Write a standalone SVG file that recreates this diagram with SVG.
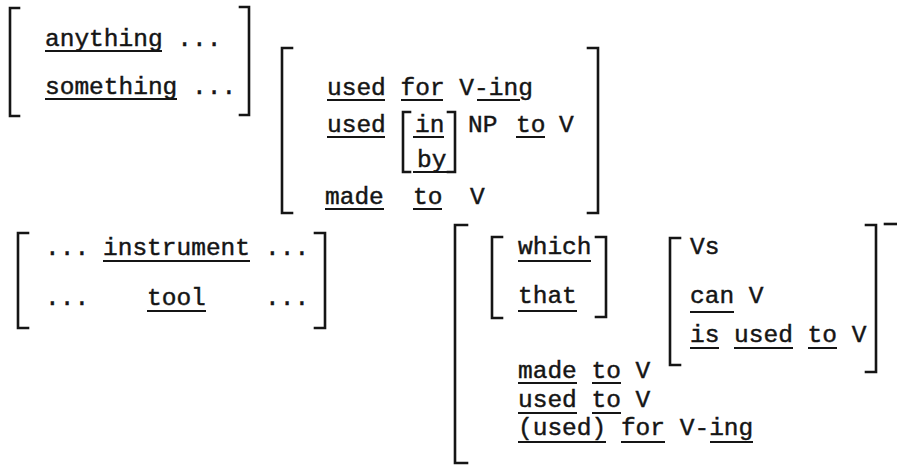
<svg xmlns="http://www.w3.org/2000/svg" width="897" height="467" viewBox="0 0 897 467">
<style>
text { font-family: "Liberation Mono", "DejaVu Sans Mono", monospace; font-size: 24.5px; fill: #151515; stroke: #151515; stroke-width: 0.45; }
.br { fill: none; stroke: #151515; stroke-width: 2.6; stroke-linecap: square; stroke-linejoin: miter; }
.ul { stroke: #151515; stroke-width: 2; fill: none; }
</style>
<rect width="897" height="467" fill="#ffffff"/>

<g id="node-anything">
  <path class="br" d="M19 8 H10 V116 H19"/>
  <path class="br" d="M240 7 H249 V115 H240"/>
  <text x="45" y="46">anything ...</text>
  <text x="45" y="94">something ...</text>
  <path class="ul" d="M45 51 H162 M45 99 H177"/>
</g>

<g id="node-used-for">
  <path class="br" d="M292 48 H282 V213 H292"/>
  <path class="br" d="M588 48 H598 V213 H588"/>
  <text x="327" y="95">used for V-ing</text>
  <path class="ul" d="M327 100 H385 M401 100 H443 M477 100 H520"/>
  <text x="327" y="132">used</text>
  <path class="br" d="M410 112 H403 V172 H410"/>
  <path class="br" d="M448 112 H455 V172 H448"/>
  <text x="415" y="132">in</text>
  <text x="417" y="167">by</text>
  <text x="468" y="132">NP</text>
  <text x="516" y="132">to</text>
  <text x="559" y="132">V</text>
  <path class="ul" d="M327 137 H385 M413 137 H444 M516 137 H545 M413 172 H447"/>
  <text x="325" y="204">made</text>
  <text x="413" y="204">to</text>
  <text x="470" y="204">V</text>
  <path class="ul" d="M325 209 H384 M413 209 H442"/>
</g>

<g id="node-instrument">
  <path class="br" d="M28 233 H18 V328 H28"/>
  <path class="br" d="M315 233 H325 V328 H315"/>
  <text x="45" y="255">...</text>
  <text x="103" y="255">instrument</text>
  <text x="265" y="255">...</text>
  <text x="45" y="305">...</text>
  <text x="147" y="305">tool</text>
  <text x="265" y="305">...</text>
  <path class="ul" d="M103 261 H250 M147 311 H206"/>
</g>

<g id="node-which">
  <path class="br" d="M467 225 H455 V463 H467"/>
  <path class="br" d="M885 224 H896"/>
  <path class="br" d="M502 237 H492 V318 H502"/>
  <path class="br" d="M596 237 H606 V317 H596"/>
  <text x="518" y="254">which</text>
  <text x="518" y="303">that</text>
  <path class="ul" d="M518 261 H591 M518 311 H577"/>
  <path class="br" d="M680 238 H670 V365 H680"/>
  <path class="br" d="M866 225 H876 V372 H866"/>
  <text x="690" y="254">Vs</text>
  <text x="690" y="303">can V</text>
  <text x="690" y="342">is used to V</text>
  <path class="ul" d="M690 312 H734 M690 348 H719 M734 348 H793 M808 348 H837"/>
  <text x="518" y="378">made to V</text>
  <text x="518" y="407">used to V</text>
  <text x="518" y="435">(used) for V-ing</text>
  <path class="ul" d="M518 383 H577 M592 383 H621 M518 413 H577 M592 413 H621 M518 442 H606 M621 442 H665 M710 442 H753"/>
</g>

<g id="connectors"></g>
</svg>
